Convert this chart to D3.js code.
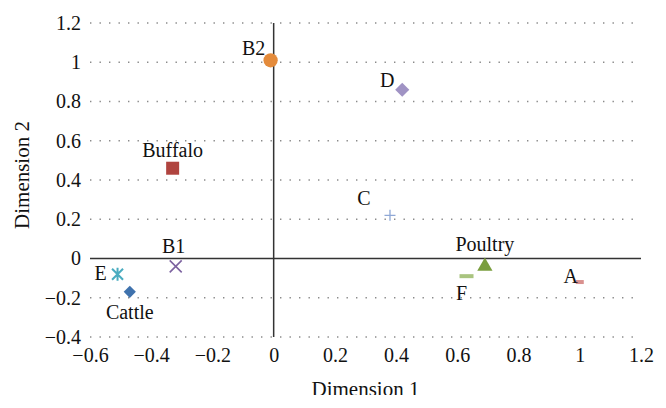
<!DOCTYPE html>
<html>
<head>
<meta charset="utf-8">
<script src="https://cdn.jsdelivr.net/npm/d3@7"></script>
<style>
  html, body { margin: 0; padding: 0; background: #fff; }
  svg text { font-family: "Liberation Serif", "Times New Roman", Times, "DejaVu Serif", serif !important; }
</style>
</head>
<body>
<svg id="chart" width="666" height="408"></svg>
<script>
// ---- data ----
const names   = ["B2", "Buffalo", "D", "C", "Poultry", "F", "A", "E", "B1", "Cattle"];
const dim1    = [-0.01, -0.33, 0.42, 0.38, 0.69, 0.63, 1.00, -0.51, -0.32, -0.47];
const dim2    = [ 1.01,  0.46, 0.86, 0.22, -0.04, -0.09, -0.12, -0.08, -0.04, -0.17];
const xTicks  = [-0.6, -0.4, -0.2, 0, 0.2, 0.4, 0.6, 0.8, 1, 1.2];
const yTicks  = [-0.4, -0.2, 0, 0.2, 0.4, 0.6, 0.8, 1, 1.2];
const xTitle  = "Dimension 1";
const yTitle  = "Dimension 2";

// ---- styling (marker shape, colour, label offset) ----
const markerStyle = {
  "B2":      {shape: "circle",   color: "#E48B3B", lx: -17, ly: -12},
  "Buffalo": {shape: "square",   color: "#B0443F", lx: 0,   ly: -18},
  "D":       {shape: "diamond",  color: "#A093C4", lx: -15, ly: -9},
  "C":       {shape: "plus",     color: "#8FA8D6", lx: -26, ly: -17},
  "Poultry": {shape: "triangle", color: "#7A9E3E", lx: 0,   ly: -22},
  "F":       {shape: "dash",     color: "#A9C47F", lx: -5,  ly: 17},
  "A":       {shape: "smalldash",color: "#D9908E", lx: -9,  ly: -6},
  "E":       {shape: "asterisk", color: "#4AACC0", lx: -17, ly: -1},
  "B1":      {shape: "cross",    color: "#7D63A0", lx: -2,  ly: -20},
  "Cattle":  {shape: "diamondS", color: "#3F72AD", lx: 0,   ly: 21}
};

const FONT = "'Liberation Serif', 'Times New Roman', Times, 'DejaVu Serif', serif";
const svg = d3.select("#chart").attr("font-family", FONT);
const x = d3.scaleLinear().domain([-0.6, 1.2]).range([90, 641]);
const y = d3.scaleLinear().domain([-0.4, 1.2]).range([337, 23]);
const fmt = d3.format("~g");

// dotted horizontal gridlines
svg.append("g").selectAll("line")
  .data(yTicks.filter(d => d !== 0))
  .join("line")
  .attr("x1", x(-0.6)).attr("x2", x(1.2))
  .attr("y1", d => y(d)).attr("y2", d => y(d))
  .attr("stroke", "#8a8a8a")
  .attr("stroke-width", 1.3)
  .attr("stroke-dasharray", "1.4,8.1");

// axes zero lines
svg.append("line")
  .attr("x1", x(-0.6)).attr("x2", x(1.2))
  .attr("y1", y(0)).attr("y2", y(0))
  .attr("stroke", "#333").attr("stroke-width", 1.5);
svg.append("line")
  .attr("x1", x(0)).attr("x2", x(0))
  .attr("y1", y(1.2)).attr("y2", y(-0.4))
  .attr("stroke", "#333").attr("stroke-width", 1.5);

// tick labels via d3 axes
const yAxis = svg.append("g")
  .attr("transform", `translate(${x(-0.6)},0)`)
  .call(d3.axisLeft(y).tickValues(yTicks).tickFormat(fmt).tickSize(0).tickPadding(9));
const xAxis = svg.append("g")
  .attr("transform", `translate(0,${y(-0.4)})`)
  .call(d3.axisBottom(x).tickValues(xTicks).tickFormat(fmt).tickSize(0).tickPadding(11));
[yAxis, xAxis].forEach(a => {
  a.attr("font-family", FONT).attr("font-size", 20);
  a.select(".domain").remove();
  a.selectAll("text").attr("fill", "#111");
});

// axis titles
svg.append("clipPath").attr("id", "clipBottom")
  .append("rect").attr("x", 0).attr("y", 0).attr("width", 666).attr("height", 395);
svg.append("text")
  .attr("x", (x(-0.6) + x(1.2)) / 2)
  .attr("y", 396)
  .attr("text-anchor", "middle")
  .attr("font-size", 21)
  .attr("fill", "#111")
  .attr("clip-path", "url(#clipBottom)")
  .text(xTitle);
svg.append("text")
  .attr("transform", `translate(29,175) rotate(-90)`)
  .attr("text-anchor", "middle")
  .attr("font-size", 21)
  .attr("fill", "#111")
  .text(yTitle);

// marker shapes
function markerPath(shape) {
  switch (shape) {
    case "circle":   return d3.symbol(d3.symbolCircle, 160)();
    case "square":   return d3.symbol(d3.symbolSquare, 169)();
    case "diamond":  return d3.symbol(d3.symbolSquare, 100)();
    case "diamondS": return d3.symbol(d3.symbolSquare, 74)();
    case "triangle": return d3.symbol(d3.symbolTriangle, 100)();
    case "plus":     return "M-5.5,0H5.5M0,-5.5V5.5";
    case "cross":    return "M-6,-6L6,6M-6,6L6,-6";
    case "asterisk": return "M-5.5,-5.5L5.5,5.5M-5.5,5.5L5.5,-5.5M0,-6.5V6.5";
    case "dash":     return "M-7,-2H7V2H-7Z";
    case "smalldash":return "M-4,-2H4V2H-4Z";
  }
}
const strokeShapes = new Set(["plus", "cross", "asterisk"]);
const rotated = new Set(["diamond", "diamondS"]);

const pts = names.map((n, i) => ({name: n, vx: dim1[i], vy: dim2[i], ...markerStyle[n]}));

svg.append("g").selectAll("path")
  .data(pts)
  .join("path")
  .attr("transform", d => `translate(${x(d.vx)},${y(d.vy)})` + (rotated.has(d.shape) ? " rotate(45)" : ""))
  .attr("d", d => markerPath(d.shape))
  .attr("fill", d => strokeShapes.has(d.shape) ? "none" : d.color)
  .attr("stroke", d => strokeShapes.has(d.shape) ? d.color : "none")
  .attr("stroke-width", d => d.shape === "asterisk" ? 2 : (d.shape === "plus" ? 1.3 : 1.6));

svg.append("g").selectAll("text")
  .data(pts)
  .join("text")
  .attr("x", d => x(d.vx) + d.lx)
  .attr("y", d => y(d.vy) + d.ly)
  .attr("dy", "0.33em")
  .attr("text-anchor", "middle")
  .attr("font-size", 20)
  .attr("fill", "#111")
  .text(d => d.name);
</script>
</body>
</html>
